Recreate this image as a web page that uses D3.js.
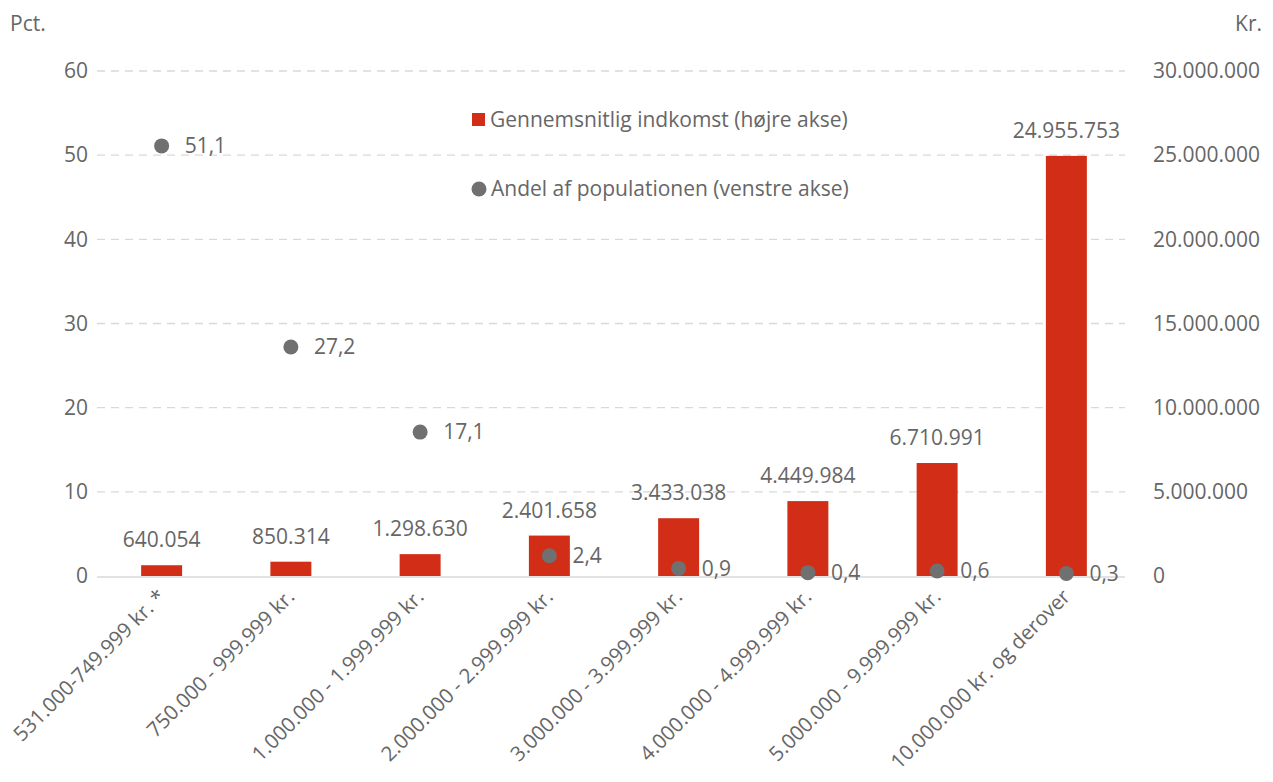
<!DOCTYPE html>
<html><head><meta charset="utf-8">
<script src="https://cdn.jsdelivr.net/npm/d3@7"></script>
<style>
body{margin:0;background:#fff;}
text{font-family:"Open Sans",sans-serif;fill:#666;}
</style></head>
<body><svg id="c" width="1273" height="782"></svg>
<script>
const categories = ["531.000-749.999 kr. *","750.000 - 999.999 kr.","1.000.000 - 1.999.999 kr.","2.000.000 - 2.999.999 kr.","3.000.000 - 3.999.999 kr.","4.000.000 - 4.999.999 kr.","5.000.000 - 9.999.999 kr.","10.000.000 kr. og derover"];
const incomeValues = [640054, 850314, 1298630, 2401658, 3433038, 4449984, 6710991, 24955753];
const shareValues = [51.1, 27.2, 17.1, 2.4, 0.9, 0.4, 0.6, 0.3];
const leftTicks = [0,10,20,30,40,50,60];
const rightTicks = [0,5000000,10000000,15000000,20000000,25000000,30000000];
const legendLabels = ["Gennemsnitlig indkomst (højre akse)","Andel af populationen (venstre akse)"];

const loc = d3.formatLocale({decimal:",", thousands:".", grouping:[3], currency:["","kr."]});
const fmtInt = loc.format(",.0f");
const fmtDec = loc.format(".1f");

const svg = d3.select("#c");
const L = 97, R = 1131, T = 71, B = 576;
const x = d3.scaleBand().domain(categories).range([L,R]).paddingInner(0.683).paddingOuter(0.3415);
const yL = d3.scaleLinear().domain([0,60]).range([B,T]);
const yR = d3.scaleLinear().domain([0,30000000]).range([B,T]);
const fs = 21;

// gridlines
svg.append("g").selectAll("line").data(leftTicks.filter(d=>d>0)).join("line")
  .attr("x1",L).attr("x2",R-6).attr("y1",d=>yL(d)).attr("y2",d=>yL(d))
  .attr("stroke","#d9d9d9").attr("stroke-width",1.3).attr("stroke-dasharray","8,6");

// left axis
const la = svg.append("g").attr("transform",`translate(${L-7},0)`)
  .call(d3.axisLeft(yL).tickValues(leftTicks).tickSize(0).tickPadding(2).tickFormat(d=>d));
la.select(".domain").remove();
la.selectAll("text").attr("font-size",fs).style("font-family","Open Sans").attr("fill","#666");

// right axis
const ra = svg.append("g").attr("transform",`translate(${1153},0)`)
  .call(d3.axisRight(yR).tickValues(rightTicks).tickSize(0).tickPadding(0).tickFormat(fmtInt));
ra.select(".domain").remove();
ra.selectAll("text").attr("font-size",fs).style("font-family","Open Sans").attr("fill","#666");

// bars
svg.append("g").selectAll("rect").data(incomeValues).join("rect")
  .attr("x",(d,i)=>x(categories[i])).attr("width",x.bandwidth())
  .attr("y",d=>yR(d)).attr("height",d=>B-yR(d)).attr("fill","#d22e17");

// zero line
svg.append("line").attr("x1",L).attr("x2",R-6).attr("y1",B+1).attr("y2",B+1)
  .attr("stroke","#d9d9d9").attr("stroke-width",1.5);

// bar labels
svg.append("g").selectAll("text").data(incomeValues).join("text")
  .attr("x",(d,i)=>x(categories[i])+x.bandwidth()/2).attr("y",d=>yR(d)-18)
  .attr("text-anchor","middle").attr("font-size",fs).attr("fill","#666").text(d=>fmtInt(d));

// dots
svg.append("g").selectAll("circle").data(shareValues).join("circle")
  .attr("cx",(d,i)=>x(categories[i])+x.bandwidth()/2).attr("cy",d=>yL(d)).attr("r",7.5)
  .attr("fill","#707070");
svg.append("g").selectAll("text").data(shareValues).join("text")
  .attr("x",(d,i)=>x(categories[i])+x.bandwidth()/2+23).attr("y",d=>yL(d))
  .attr("dy","0.35em").attr("font-size",fs).attr("fill","#666").text(d=>fmtDec(d));

// category labels
svg.append("g").selectAll("text").data(categories).join("text")
  .attr("transform",d=>`translate(${x(d)+x.bandwidth()/2+5},${598}) rotate(-45)`)
  .attr("text-anchor","end").attr("font-size",20.5).attr("fill","#666").text(d=>d);

// axis titles
svg.append("text").attr("x",10).attr("y",31).attr("font-size",fs).text("Pct.");
svg.append("text").attr("x",1262).attr("y",31).attr("text-anchor","end").attr("font-size",fs).text("Kr.");

// legend
const lg = svg.append("g");
lg.append("rect").attr("x",472).attr("y",113).attr("width",13).attr("height",13).attr("fill","#d22e17");
lg.append("text").attr("x",490).attr("y",120).attr("dy","0.35em").attr("font-size",fs).text(legendLabels[0]);
lg.append("circle").attr("cx",479).attr("cy",189).attr("r",7.5).attr("fill","#707070");
lg.append("text").attr("x",491).attr("y",189).attr("dy","0.35em").attr("font-size",fs).text(legendLabels[1]);
</script></body></html>
